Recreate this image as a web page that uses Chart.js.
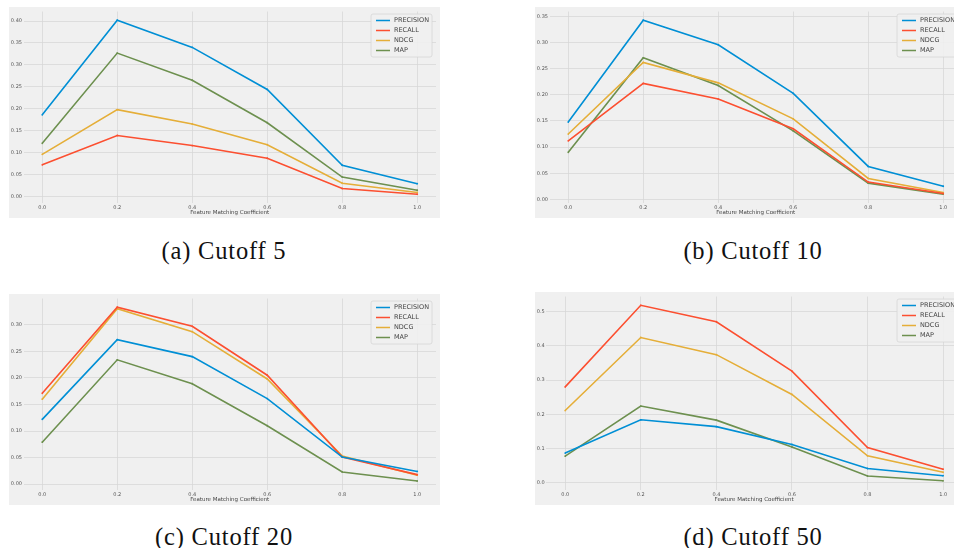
<!DOCTYPE html>
<html>
<head>
<meta charset="utf-8">
<script src="https://cdn.jsdelivr.net/npm/chart.js@4.4.1/dist/chart.umd.min.js"></script>
<style>
    html, body { margin: 0; padding: 0; background: #ffffff; }
    #page { position: relative; width: 954px; height: 548px; overflow: hidden; background: #ffffff; }
    #page canvas { position: absolute; background: #f0f0f0; }
    .caption {
        position: absolute;
        font-family: "Liberation Serif", serif;
        font-size: 24.5px;
        letter-spacing: 0.8px;
        color: #111111;
        white-space: nowrap;
        transform: translate(-50%, -50%);
    }
</style>
</head>
<body>
<div id="page">
    <canvas id="cut5" width="431" height="211" style="left:9px;top:7px"></canvas>
    <canvas id="cut10" width="431" height="211" style="left:535px;top:7px"></canvas>
    <canvas id="cut20" width="431" height="211" style="left:9px;top:294px"></canvas>
    <canvas id="cut50" width="431" height="213" style="left:535px;top:292px"></canvas>

    <div class="caption" style="left:224px;top:251px">(a) Cutoff 5</div>
    <div class="caption" style="left:753px;top:251px">(b) Cutoff 10</div>
    <div class="caption" style="left:224px;top:537px">(c) Cutoff 20</div>
    <div class="caption" style="left:753px;top:537px">(d) Cutoff 50</div>
</div>

<script>
    var coef = [0.0, 0.2, 0.4, 0.6, 0.8, 1.0];
    var metrics = ['PRECISION', 'RECALL', 'NDCG', 'MAP'];
    var colors = ['#008fd5', '#fc4f30', '#e5ae38', '#6d904f'];

    // ############################## CUTOFF 5 ##############################
    var precision5 = [0.186, 0.402, 0.340, 0.244, 0.071, 0.029];
    var recall5    = [0.072, 0.139, 0.116, 0.087, 0.018, 0.005];
    var ndcg5      = [0.096, 0.198, 0.165, 0.118, 0.030, 0.009];
    var map5       = [0.121, 0.327, 0.265, 0.168, 0.044, 0.014];
    var yTicks5    = [0.00, 0.05, 0.10, 0.15, 0.20, 0.25, 0.30, 0.35, 0.40];

    // ############################## CUTOFF 10 #############################
    var precision10 = [0.148, 0.343, 0.296, 0.203, 0.063, 0.025];
    var recall10    = [0.112, 0.222, 0.192, 0.135, 0.033, 0.011];
    var ndcg10      = [0.125, 0.262, 0.223, 0.154, 0.040, 0.013];
    var map10       = [0.090, 0.271, 0.218, 0.131, 0.031, 0.010];
    var yTicks10    = [0.00, 0.05, 0.10, 0.15, 0.20, 0.25, 0.30, 0.35];

    // ############################## CUTOFF 20 #############################
    var precision20 = [0.122, 0.272, 0.240, 0.161, 0.051, 0.024];
    var recall20    = [0.171, 0.333, 0.297, 0.205, 0.051, 0.018];
    var ndcg20      = [0.160, 0.330, 0.287, 0.198, 0.053, 0.017];
    var map20       = [0.079, 0.234, 0.189, 0.110, 0.023, 0.006];
    var yTicks20    = [0.00, 0.05, 0.10, 0.15, 0.20, 0.25, 0.30];

    // ############################## CUTOFF 50 #############################
    var precision50 = [0.087, 0.184, 0.164, 0.112, 0.042, 0.021];
    var recall50    = [0.280, 0.518, 0.470, 0.326, 0.103, 0.040];
    var ndcg50      = [0.211, 0.424, 0.374, 0.258, 0.079, 0.031];
    var map50       = [0.078, 0.224, 0.183, 0.105, 0.020, 0.006];
    var yTicks50    = [0.0, 0.1, 0.2, 0.3, 0.4, 0.5];

    /**
     * Legenda com caixa no canto superior direito da área do gráfico
     */
    var boxLegend = {
        id: 'boxLegend',
        afterDatasetsDraw: function (chart) {
            var ctx = chart.ctx;
            var area = chart.chartArea;
            var w = 61, h = 43;
            var x = area.right - 4 - w;
            var y = area.top + 2.5;

            ctx.save();
            ctx.beginPath();
            ctx.roundRect(x, y, w, h, 2);
            ctx.fillStyle = 'rgba(240, 240, 240, 0.85)';
            ctx.fill();
            ctx.strokeStyle = '#d6d6d6';
            ctx.lineWidth = 0.8;
            ctx.stroke();

            ctx.font = '6.5px "DejaVu Sans"';
            ctx.textBaseline = 'middle';
            ctx.textAlign = 'left';
            chart.data.datasets.forEach(function (ds, i) {
                var ry = y + 6.5 + i * 10;
                ctx.strokeStyle = ds.borderColor;
                ctx.lineWidth = 1.5;
                ctx.beginPath();
                ctx.moveTo(x + 5, ry);
                ctx.lineTo(x + 19, ry);
                ctx.stroke();
                ctx.fillStyle = '#444444';
                ctx.fillText(ds.label, x + 23, ry);
            });
            ctx.restore();
        }
    };

    /**
     * Cria o gráfico de linhas de um cutoff
     *
     * @param {string} id
     * @param {array} series
     * @param {array} yTicks
     * @param {number} digits
     * @param {number} yWidth
     * @param {number} xHeight
     */
    function createCutoffChart(id, series, yTicks, digits, yWidth, xHeight) {
        var all = [].concat.apply([], series);
        var lo = Math.min.apply(null, all);
        var hi = Math.max.apply(null, all);
        var pad = (hi - lo) * 0.05;

        var tickFont = { family: 'DejaVu Sans', size: 5 };

        return new Chart(document.getElementById(id), {
            type: 'line',
            data: {
                datasets: series.map(function (vals, i) {
                    return {
                        label: metrics[i],
                        data: vals.map(function (v, j) { return { x: coef[j], y: v }; }),
                        borderColor: colors[i],
                        backgroundColor: colors[i],
                        borderWidth: 1.6,
                        pointRadius: 0.9,
                        pointBorderWidth: 0,
                        tension: 0
                    };
                })
            },
            options: {
                responsive: false,
                animation: false,
                devicePixelRatio: 1,
                layout: { padding: { top: 2.2, right: 2, left: 0, bottom: 0 } },
                plugins: {
                    legend: { display: false },
                    tooltip: { enabled: false }
                },
                scales: {
                    x: {
                        type: 'linear',
                        min: -0.05,
                        max: 1.05,
                        afterBuildTicks: function (s) {
                            s.ticks = coef.map(function (v) { return { value: v }; });
                        },
                        afterFit: function (s) { s.height = xHeight; },
                        border: { display: false },
                        grid: { color: '#d8d8d8', lineWidth: 0.8, drawTicks: false },
                        ticks: {
                            padding: 2,
                            font: tickFont,
                            color: '#555555',
                            maxRotation: 0,
                            autoSkip: false,
                            callback: function (v) { return v.toFixed(1); }
                        },
                        title: {
                            display: true,
                            text: 'Feature Matching Coefficient',
                            font: { family: 'DejaVu Sans', size: 5.5 },
                            color: '#444444',
                            padding: { top: 0, bottom: 2 }
                        }
                    },
                    y: {
                        min: lo - pad,
                        max: hi + pad,
                        afterBuildTicks: function (s) {
                            s.ticks = yTicks.map(function (v) { return { value: v }; });
                        },
                        afterFit: function (s) { s.width = yWidth; },
                        border: { display: false },
                        grid: { color: '#d8d8d8', lineWidth: 0.8, drawTicks: false },
                        ticks: {
                            padding: 1.5,
                            font: tickFont,
                            color: '#555555',
                            autoSkip: false,
                            callback: function (v) { return v.toFixed(digits); }
                        }
                    }
                }
            },
            plugins: [boxLegend]
        });
    }

    createCutoffChart('cut5', [precision5, recall5, ndcg5, map5], yTicks5, 2, 14.5, 15.1);
    createCutoffChart('cut10', [precision10, recall10, ndcg10, map10], yTicks10, 2, 14.5, 15.2);
    createCutoffChart('cut20', [precision20, recall20, ndcg20, map20], yTicks20, 2, 14.5, 15.3);
    createCutoffChart('cut50', [precision50, recall50, ndcg50, map50], yTicks50, 1, 11.3, 15.4);
</script>
</body>
</html>
